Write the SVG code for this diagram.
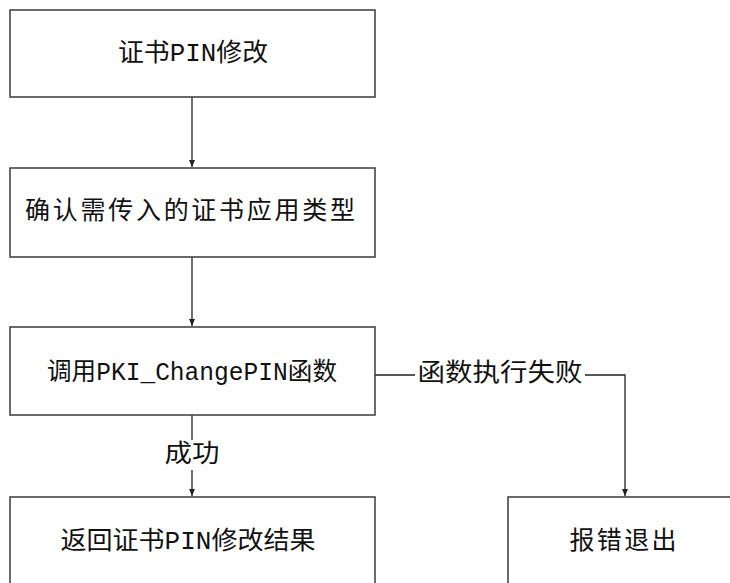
<svg xmlns="http://www.w3.org/2000/svg" width="730" height="583" viewBox="0 0 730 583">
<style>
.box{fill:#fff;stroke:#3a3a3a;stroke-width:1.5}
.t{font-family:"Liberation Mono","Noto Sans CJK SC",monospace;font-size:25px;fill:#111;text-anchor:middle;dominant-baseline:central}
.lbl{font-family:"Liberation Mono","Noto Sans CJK SC",monospace;font-size:25px;fill:#111;text-anchor:middle;dominant-baseline:central}
.c{fill:none;stroke:#222;stroke-width:1.3}
</style>
<defs>
<marker id="ah" markerWidth="8" markerHeight="8" refX="7" refY="4" orient="auto" markerUnits="userSpaceOnUse">
<path d="M0,1 L7,4 L0,7 Z" fill="#222"/>
</marker>
</defs>
<rect width="730" height="583" fill="#fff"/>
<g id="connectors">
<line class="c" x1="192" y1="97" x2="192" y2="167" marker-end="url(#ah)"/>
<line class="c" x1="192" y1="257" x2="192" y2="326" marker-end="url(#ah)"/>
<line class="c" x1="192" y1="415" x2="192" y2="496" marker-end="url(#ah)"/>
<path class="c" d="M375,375 H625 V496" marker-end="url(#ah)"/>
<rect x="415" y="360" width="170" height="30" fill="#fff"/>
<text class="lbl" x="500" y="374" textLength="165" lengthAdjust="spacingAndGlyphs">函数执行失败</text>
<rect x="163" y="440" width="58" height="30" fill="#fff"/>
<text class="lbl" x="192" y="455" textLength="55" lengthAdjust="spacingAndGlyphs">成功</text>
</g>
<g id="n1">
<rect class="box" x="10" y="10" width="365" height="87"/>
<text class="t" x="193" y="54" textLength="150" lengthAdjust="spacingAndGlyphs">证书PIN修改</text>
</g>
<g id="n2">
<rect class="box" x="10" y="168" width="365" height="89"/>
<text class="t" x="190" y="212" textLength="330" lengthAdjust="spacing">确认需传入的证书应用类型</text>
</g>
<g id="n3">
<rect class="box" x="10" y="327" width="365" height="88"/>
<text class="t" x="192" y="373" textLength="290" lengthAdjust="spacingAndGlyphs">调用PKI_ChangePIN函数</text>
</g>
<g id="n4">
<rect class="box" x="10" y="497" width="365" height="100"/>
<text class="t" x="188" y="542" textLength="255" lengthAdjust="spacingAndGlyphs">返回证书PIN修改结果</text>
</g>
<g id="n5">
<rect class="box" x="508" y="497" width="240" height="100"/>
<text class="t" x="623" y="542" textLength="107" lengthAdjust="spacing">报错退出</text>
</g>
</svg>
